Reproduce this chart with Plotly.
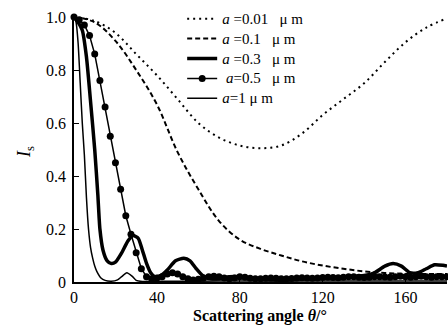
import plotly.graph_objects as go

# ---- data ----
x_001 = [0, 10, 20, 30, 40, 50, 60, 70, 80, 90, 100, 110, 120, 130, 140, 150, 160, 170, 180]
y_001 = [1.0, 0.985, 0.94, 0.86, 0.78, 0.69, 0.60, 0.545, 0.515, 0.505, 0.515, 0.56, 0.63, 0.69,
         0.75, 0.83, 0.905, 0.96, 0.995]

x_01 = [0, 10, 20, 30, 40, 50, 60, 70, 80, 90, 100, 110, 120, 130, 140, 150, 160, 170, 180]
y_01 = [1.0, 0.98, 0.91, 0.80, 0.67, 0.49, 0.35, 0.23, 0.16, 0.125, 0.10, 0.078, 0.062, 0.05,
        0.04, 0.034, 0.031, 0.03, 0.03]

x_03 = [0, 2, 4, 6, 8, 10, 11.5, 12.5, 14, 16, 18, 20, 23, 26, 28.5, 31, 33, 35, 37, 39, 42, 45,
        49, 53, 56, 59, 62, 66, 70, 75, 80, 85, 90, 100, 110, 120, 130, 140, 145, 150, 154, 158,
        162, 166, 170, 174, 178, 180]
y_03 = [1.0, 0.98, 0.95, 0.85, 0.68, 0.50, 0.33, 0.20, 0.12, 0.08, 0.07, 0.075, 0.11, 0.155,
        0.175, 0.165, 0.12, 0.07, 0.035, 0.02, 0.025, 0.045, 0.08, 0.09, 0.08, 0.05, 0.025, 0.012,
        0.012, 0.02, 0.02, 0.012, 0.01, 0.01, 0.012, 0.015, 0.02, 0.025, 0.035, 0.06, 0.07, 0.06,
        0.035, 0.035, 0.05, 0.065, 0.063, 0.06]

x_05 = [i * 2.5 for i in range(73)]
y_05 = [1.0, 0.99, 0.97, 0.93, 0.86, 0.76, 0.66, 0.55, 0.45, 0.35, 0.25, 0.18, 0.11, 0.05, 0.02,
        0.012, 0.015, 0.02, 0.03, 0.035, 0.03, 0.02, 0.012, 0.008, 0.01, 0.015, 0.02, 0.022,
        0.02, 0.015, 0.012, 0.015, 0.02, 0.018, 0.014, 0.012, 0.012, 0.014, 0.015, 0.014, 0.012,
        0.012, 0.013, 0.015, 0.016, 0.015, 0.014, 0.015, 0.017, 0.018, 0.017, 0.016, 0.018,
        0.02, 0.02, 0.018, 0.017, 0.018, 0.02, 0.02, 0.019, 0.018, 0.02, 0.022, 0.02, 0.018,
        0.02, 0.022, 0.02, 0.018, 0.02, 0.02, 0.02]

x_1 = [0, 1, 2, 3, 4, 5, 6, 7, 8, 9, 10, 11, 13, 15, 18, 21, 23, 25.5, 28, 30, 33, 40, 60, 80,
       100, 120, 140, 160, 180]
y_1 = [1.0, 0.98, 0.90, 0.75, 0.60, 0.48, 0.32, 0.20, 0.13, 0.09, 0.06, 0.04, 0.015, 0.006,
       0.003, 0.008, 0.02, 0.035, 0.022, 0.006, 0.002, 0.003, 0.003, 0.004, 0.003, 0.004,
       0.004, 0.004, 0.004]

NB = "\u00a0"
labels = [f"<i>a</i>{NB}=0.01{NB*3}μ{NB}m", f"<i>a</i>{NB}=0.1{NB*3}μ{NB}m",
          f"<i>a</i>{NB}=0.3{NB*3}μ{NB}m", f"{NB}<i>a</i>=0.5{NB*3}μ{NB}m",
          f"<i>a</i>=1{NB}μ{NB}m"]
names = [f'<span style="font-size:15px">{t}</span>' for t in labels]

x_ticks = [0, 40, 80, 120, 160]
y_ticks = [0, 0.2, 0.4, 0.6, 0.8, 1.0]
y_ticktext = ["0", "0.2", "0.4", "0.6", "0.8", "1.0"]

FONT = "Liberation Serif"

fig = go.Figure()
fig.add_trace(go.Scatter(x=x_001, y=y_001, mode="lines", name=names[0],
                         line=dict(color="black", width=2, dash="2px,4px", shape="spline"),
                         cliponaxis=False))
fig.add_trace(go.Scatter(x=x_01, y=y_01, mode="lines", name=names[1],
                         line=dict(color="black", width=2, dash="5px,3px", shape="spline"),
                         cliponaxis=False))
fig.add_trace(go.Scatter(x=x_03, y=y_03, mode="lines", name=names[2],
                         line=dict(color="black", width=3.5, shape="spline", smoothing=0.6),
                         cliponaxis=False))
fig.add_trace(go.Scatter(x=x_05, y=y_05, mode="lines+markers", name=names[3],
                         line=dict(color="black", width=1.5),
                         marker=dict(color="black", size=7, symbol="circle"),
                         cliponaxis=False))
fig.add_trace(go.Scatter(x=x_1, y=y_1, mode="lines", name=names[4],
                         line=dict(color="black", width=1.5, shape="spline", smoothing=0.6),
                         cliponaxis=False))

fig.update_layout(
    width=448, height=331,
    margin=dict(l=74, r=1, t=17, b=49),
    paper_bgcolor="white", plot_bgcolor="white",
    font=dict(family=FONT, size=15, color="black"),
    showlegend=True,
    legend=dict(x=0.29, y=1.05, xanchor="left", yanchor="top",
                bgcolor="rgba(0,0,0,0)", font=dict(family=FONT, size=13, color="black"),
                tracegroupgap=0, itemwidth=30),
    xaxis=dict(range=[0, 180], tickvals=x_ticks, ticktext=[str(v) for v in x_ticks],
               showline=True, linecolor="black", linewidth=1.5, showgrid=False,
               zeroline=False, ticks="inside", ticklen=4, tickcolor="black",
               tickfont=dict(family=FONT, size=16, color="black"),
               ticklabelstandoff=0),
    yaxis=dict(range=[0, 1.0], tickvals=y_ticks, ticktext=y_ticktext,
               showline=True, linecolor="black", linewidth=1.5, showgrid=False,
               zeroline=False, ticks="inside", ticklen=5, tickcolor="black",
               tickfont=dict(family=FONT, size=16, color="black"),
               ticklabelstandoff=3),
)

fig.add_annotation(text="<b>Scattering angle <i>θ</i>/°</b>", xref="paper", yref="paper",
                   x=(260 - 74) / 373, y=-(316 - 282) / 265, xanchor="center", yanchor="middle",
                   showarrow=False, font=dict(family=FONT, size=16, color="black"))
fig.add_annotation(text="<i>I</i><sub>s</sub>", xref="paper", yref="paper",
                   x=-(74 - 25) / 373, y=(282 - 152) / 265, xanchor="center", yanchor="middle",
                   textangle=-90, showarrow=False, font=dict(family=FONT, size=18, color="black"))

fig.write_html("out.html", config={"displayModeBar": False},
               post_script="document.body.style.margin='0';")
